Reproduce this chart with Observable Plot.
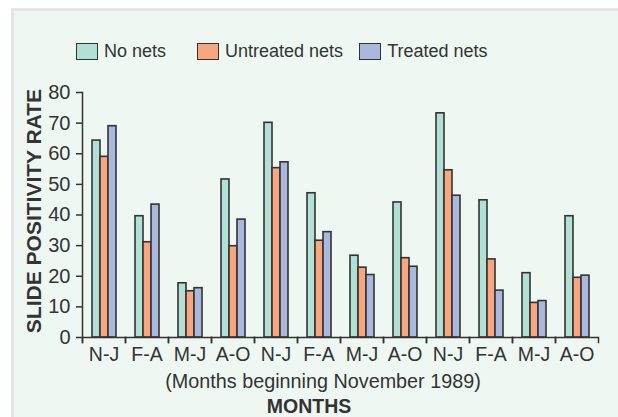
<!DOCTYPE html>
<html>
<head>
<meta charset="utf-8">
<script src="https://cdn.jsdelivr.net/npm/d3@7"></script>
<script src="https://cdn.jsdelivr.net/npm/@observablehq/plot@0.6"></script>
<style>
  html, body { margin: 0; padding: 0; background: #fff; }
  #wrap { position: relative; width: 618px; height: 417px; overflow: hidden; font-family: "Liberation Sans", Arial, sans-serif; color: #333; }
  #panel { position: absolute; left: 11px; top: 8px; right: 0; bottom: 0; background: #eef7f2; border-left: 3px solid #e2e5e3; border-top: 3px solid #e2e5e3; }
  #legend { position: absolute; top: 41px; left: 76px; display: flex; align-items: center; font-size: 18px; }
  .item { display: flex; align-items: center; }
  .sw { display: inline-block; width: 22px; height: 17px; box-sizing: border-box; border: 1.5px solid #333; }
  .lab { margin-left: 6px; }
  #chart { position: absolute; left: 0; top: 70px; }
  .xt { position: absolute; white-space: nowrap; transform: translateX(-50%); }
  #ylab { position: absolute; left: 34px; top: 211px; transform: translate(-50%, -50%) rotate(-90deg); font-weight: bold; font-size: 21px; white-space: nowrap; }
</style>
</head>
<body>
<div id="wrap">
  <div id="panel"></div>
  <div id="legend"></div>
  <div id="chart"></div>
  <div id="ylab"></div>
  <div class="xt" id="sub" style="left:323px; top:370px; font-size:19.8px;"></div>
  <div class="xt" id="xlab" style="left:309px; top:395px; font-size:19.5px; font-weight:bold;"></div>
</div>
<script>
const periods = ["N-J","F-A","M-J","A-O","N-J","F-A","M-J","A-O","N-J","F-A","M-J","A-O"];
const series = ["No nets", "Untreated nets", "Treated nets"];
const noNets    = [64.3, 39.6, 17.7, 51.6, 70.1, 47.1, 26.7, 44.1, 73.2, 44.8, 21.0, 39.6];
const untreated = [59.0, 31.1, 15.1, 29.8, 55.3, 31.6, 22.8, 25.9, 54.6, 25.5, 11.3, 19.5];
const treated   = [69.0, 43.4, 16.1, 38.5, 57.2, 34.4, 20.4, 23.1, 46.3, 15.3, 11.9, 20.2];
const yTicks = [0, 10, 20, 30, 40, 50, 60, 70, 80];
const colors = ["#b3e0d4", "#f8a67e", "#abb8de"];
const yTitle = "SLIDE POSITIVITY RATE";
const xSubtitle = "(Months beginning November 1989)";
const xTitle = "MONTHS";

const table = [];
periods.forEach((p, i) => {
  [noNets, untreated, treated].forEach((arr, k) => {
    table.push({period: i, series: series[k], value: arr[i]});
  });
});

// legend
const legend = document.getElementById("legend");
const gaps = [31, 16, 0];
series.forEach((s, k) => {
  const it = document.createElement("div");
  it.className = "item";
  it.style.marginRight = gaps[k] + "px";
  const sw = document.createElement("span");
  sw.className = "sw";
  sw.style.background = colors[k];
  const lab = document.createElement("span");
  lab.className = "lab";
  lab.textContent = s;
  it.appendChild(sw); it.appendChild(lab);
  legend.appendChild(it);
});
document.getElementById("ylab").textContent = yTitle;
document.getElementById("sub").textContent = xSubtitle;
document.getElementById("xlab").textContent = xTitle;

const H = 347, MT = 22, MB = 80;
const inner = H - MT - MB;

const chart = Plot.plot({
  width: 618,
  height: H,
  marginTop: MT,
  marginBottom: MB,
  marginLeft: 82,
  marginRight: 20,
  style: {background: "transparent", fontFamily: "'Liberation Sans', Arial, sans-serif", fontSize: "19px", color: "#333", overflow: "visible"},
  fx: {domain: d3.range(periods.length), padding: 0, axis: null},
  x: {domain: series, paddingInner: 0, paddingOuter: 0.889, axis: null},
  y: {domain: [0, 80], axis: null},
  color: {domain: series, range: colors},
  marks: [
    Plot.barY(table, {fx: "period", x: "series", y: "value", fill: "series", stroke: "#333", strokeWidth: 1.6}),
    Plot.ruleY([0], {stroke: "#333", strokeWidth: 1.5}),
    Plot.frame({anchor: "left", insetTop: inner, insetBottom: -5, stroke: "#333", strokeWidth: 1.5}),
    Plot.frame({anchor: "right", insetTop: inner, insetBottom: -5, stroke: "#333", strokeWidth: 1.5}),
    Plot.frame({anchor: "left", insetBottom: -5, stroke: "#333", strokeWidth: 1.5, facetAnchor: "left"}),
    Plot.axisY({ticks: yTicks, tickSize: 6, tickPadding: 6, label: null, fontSize: 20, stroke: "#333", strokeWidth: 1.5, fill: "#333", facetAnchor: "left"}),
    Plot.axisFx({anchor: "bottom", tickSize: 0, tickPadding: 10, tickFormat: i => periods[i], label: null, fontSize: 19.5, fill: "#333"})
  ]
});
document.getElementById("chart").appendChild(chart);
</script>
</body>
</html>
